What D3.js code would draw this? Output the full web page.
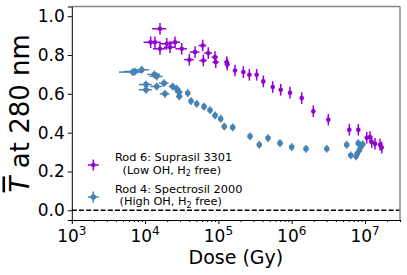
<!DOCTYPE html>
<html>
<head>
<meta charset="utf-8">
<script src="https://cdn.jsdelivr.net/npm/d3@7"></script>
<style>
  html, body { margin: 0; padding: 0; background: #fff; }
  svg { display: block; font-family: "DejaVu Sans", sans-serif; }
</style>
</head>
<body>
<svg id="chart" width="407" height="275"></svg>
<script>
// Rod 6: Suprasil 3301 (purple)
const rod6Dose = [11900, 13650, 15960, 15960, 19720, 21880, 25590, 31570, 40090, 47970,
  61090, 62260, 72800, 89900, 91900, 129800, 132200, 168500, 218800, 264200,
  332800, 410000, 550800, 708000, 948000, 1368000, 1971000, 3157000, 6105000, 8106000,
  10550000, 11700000, 12340000, 13680000, 16020000, 16890000];
const rod6T = [0.866, 0.866, 0.935, 0.832, 0.858, 0.84, 0.866, 0.832, 0.776, 0.815,
  0.849, 0.772, 0.81, 0.789, 0.763, 0.763, 0.751, 0.72, 0.712, 0.698,
  0.698, 0.664, 0.635, 0.621, 0.606, 0.578, 0.51, 0.467, 0.415, 0.415,
  0.374, 0.377, 0.352, 0.343, 0.338, 0.323];
const rod6DoseErr = [0.2, 0.2, 0.22, 0.2, 0.2, 0.18, 0.18, 0.18, 0.15, 0.15,
  0.12, 0.12, 0.12, 0.1, 0.1, 0.08, 0.08, 0.06, 0.06, 0.06,
  0.05, 0.05, 0.05, 0.05, 0.05, 0.05, 0.05, 0.05, 0.05, 0.05,
  0.05, 0.05, 0.05, 0.05, 0.05, 0.05];
const rod6TErr = 0.03;

// Rod 4: Spectrosil 2000 (blue)
const rod4Dose = [6780, 7280, 8990, 10290, 10290, 13370, 14390, 14390, 18110, 18670,
  23800, 26990, 28990, 29300, 38120, 42270, 50560, 63640, 76800, 89900,
  107400, 120300, 156600, 269700, 361200, 475100, 692600, 999000, 1567000, 3004000,
  5626000, 6380000, 7535000, 7850000, 8100000, 8360000, 8730000, 9300000];
const rod4T = [0.712, 0.715, 0.724, 0.648, 0.621, 0.7, 0.69, 0.638, 0.655, 0.6,
  0.638, 0.626, 0.609, 0.587, 0.604, 0.563, 0.549, 0.534, 0.516, 0.489,
  0.472, 0.432, 0.427, 0.381, 0.338, 0.372, 0.346, 0.326, 0.317, 0.317,
  0.338, 0.283, 0.278, 0.292, 0.346, 0.309, 0.326, 0.34];
const rod4DoseErr = [0.35, 0.3, 0.25, 0.2, 0.2, 0.2, 0.2, 0.18, 0.15, 0.15,
  0.12, 0.12, 0.12, 0.1, 0.08, 0.06, 0.05, 0.05, 0.05, 0.05,
  0.05, 0.05, 0.05, 0.05, 0.05, 0.05, 0.05, 0.05, 0.05, 0.05,
  0.05, 0.05, 0.05, 0.05, 0.05, 0.05, 0.05, 0.05];
const rod4TErr = 0.02;

const xTicks = [1e3, 1e4, 1e5, 1e6, 1e7];
const yTicks = [0.0, 0.2, 0.4, 0.6, 0.8, 1.0];

const series = [
  { label: "Rod 6: Suprasil 3301", sub: "(Low OH, H", subEnd: " free)", color: "#9400d3",
    dose: rod6Dose, t: rod6T, dx: rod6DoseErr, dt: rod6TErr, r: 2.3 },
  { label: "Rod 4: Spectrosil 2000", sub: "(High OH, H", subEnd: " free)", color: "#4682b4",
    dose: rod4Dose, t: rod4T, dx: rod4DoseErr, dt: rod4TErr, r: 2.8 }
];

const L = 71.8, R = 400, T = 6.5, B = 220;
const svg = d3.select("#chart");

const x = d3.scaleLog().domain([1e3, 3e7]).range([L, R]);
const y = d3.scaleLinear().domain([-0.05, 1.05]).range([B, T]);

// dashed zero line
svg.append("line")
  .attr("x1", L).attr("x2", R).attr("y1", y(0)).attr("y2", y(0))
  .attr("stroke", "#000").attr("stroke-width", 1.4).attr("stroke-dasharray", "5,2.2");

// data: blue first, purple on top
for (const s of [series[1], series[0]]) {
  const g = svg.append("g");
  s.dose.forEach((d, i) => {
    const cx = x(d), cy = y(s.t[i]);
    g.append("line")
      .attr("x1", x(d * (1 - s.dx[i]))).attr("x2", x(d * (1 + s.dx[i])))
      .attr("y1", cy).attr("y2", cy)
      .attr("stroke", s.color).attr("stroke-width", 1.5);
    g.append("line")
      .attr("x1", cx).attr("x2", cx)
      .attr("y1", y(s.t[i] - s.dt)).attr("y2", y(s.t[i] + s.dt))
      .attr("stroke", s.color).attr("stroke-width", 1.5);
    g.append("circle").attr("cx", cx).attr("cy", cy).attr("r", s.r).attr("fill", s.color);
  });
}

// spines
svg.append("line").attr("x1", L).attr("x2", R).attr("y1", T).attr("y2", T)
  .attr("stroke", "#888").attr("stroke-width", 1.5);
svg.append("line").attr("x1", R).attr("x2", R).attr("y1", T).attr("y2", B)
  .attr("stroke", "#888").attr("stroke-width", 1.5);

// y axis
const yAxis = svg.append("g").attr("transform", `translate(${L},0)`)
  .call(d3.axisLeft(y).tickValues(yTicks).tickFormat(d3.format(".1f")).tickSize(4).tickPadding(3));
yAxis.select(".domain").attr("stroke", "#000").attr("stroke-width", 1);
yAxis.selectAll("text").attr("font-size", 17).attr("fill", "#000")
  .attr("font-family", "DejaVu Sans");

// x axis with minor ticks
const minor = [];
for (let e = 3; e <= 7; e++) for (let m = 2; m <= 9; m++) if (m * 10 ** e <= 3e7) minor.push(m * 10 ** e);
const xMinor = svg.append("g").attr("transform", `translate(0,${B})`)
  .call(d3.axisBottom(x).tickValues(minor).tickFormat("").tickSize(2).tickSizeOuter(0));
xMinor.select(".domain").remove();
const xAxis = svg.append("g").attr("transform", `translate(0,${B})`)
  .call(d3.axisBottom(x).tickValues(xTicks).tickFormat("").tickSize(4).tickSizeOuter(0));
xAxis.select(".domain").attr("stroke", "#000").attr("stroke-width", 1);

xTicks.forEach(v => {
  const t = svg.append("text").attr("x", x(v)).attr("y", 241.5)
    .attr("text-anchor", "middle").attr("font-size", 17).attr("fill", "#000");
  t.append("tspan").text("10");
  t.append("tspan").attr("dy", -7).attr("font-size", 12).text(Math.log10(v).toFixed(0));
});

// axis labels
svg.append("text").attr("x", (L + R) / 2).attr("y", 264)
  .attr("text-anchor", "middle").attr("font-size", 19).text("Dose (Gy)");

const yl = svg.append("text")
  .attr("transform", `translate(28.5,${(T + B) / 2}) rotate(-90)`)
  .attr("text-anchor", "middle").attr("font-size", 26);
yl.append("tspan").attr("font-style", "italic").style("text-decoration", "overline").text("T");
yl.append("tspan").text(" at 280 nm");

// legend
const lg = svg.append("g").attr("font-size", 11.3);
series.forEach((s, i) => {
  const my = i === 0 ? 165 : 197;
  const mx = 93.3;
  lg.append("line").attr("x1", mx - 5.5).attr("x2", mx + 5.5).attr("y1", my).attr("y2", my)
    .attr("stroke", s.color).attr("stroke-width", 1.5);
  lg.append("line").attr("x1", mx).attr("x2", mx).attr("y1", my - 5.5).attr("y2", my + 5.5)
    .attr("stroke", s.color).attr("stroke-width", 1.5);
  lg.append("circle").attr("cx", mx).attr("cy", my).attr("r", s.r).attr("fill", s.color);
  const base = i === 0 ? 161 : 192.5;
  lg.append("text").attr("x", 115).attr("y", base).text(s.label);
  const t2 = lg.append("text").attr("x", i === 0 ? 122.5 : 119.5).attr("y", base + 12.5)
    .attr("xml:space", "preserve");
  t2.append("tspan").text(s.sub);
  t2.append("tspan").attr("dy", 2.5).attr("font-size", 8).text("2");
  t2.append("tspan").attr("dy", -2.5).text(s.subEnd);
});
</script>
</body>
</html>
